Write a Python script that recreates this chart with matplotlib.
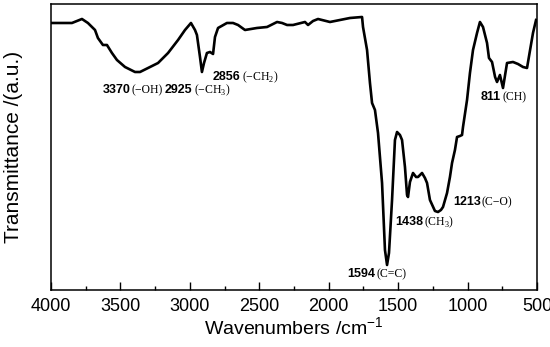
import numpy as np
import matplotlib
matplotlib.use("Agg")
import matplotlib.pyplot as plt

plt.rcParams['font.family'] = ['Liberation Sans', 'DejaVu Sans']
plt.rcParams['mathtext.fontset'] = 'custom'
plt.rcParams['mathtext.rm'] = 'Liberation Serif'
plt.rcParams['mathtext.sf'] = 'Liberation Sans'

# FTIR spectrum (wavenumber in cm-1, transmittance in a.u.)
wavenumber = [3993, 3899, 3849, 3777, 3734, 3683, 3662, 3626, 3597, 3561, 3525, 3467,
              3395, 3359, 3301, 3229, 3157, 3085, 3035, 2992, 2963, 2949, 2927, 2913,
              2898, 2877, 2855, 2833, 2819, 2797, 2733, 2689, 2653, 2603, 2517, 2444,
              2372, 2336, 2300, 2257, 2171, 2149, 2113, 2077, 1991, 1919, 1847, 1760,
              1753, 1724, 1703, 1688, 1667, 1645, 1616, 1595, 1580, 1566, 1544, 1523,
              1508, 1487, 1472, 1451, 1436, 1429, 1415, 1393, 1371, 1357, 1328, 1307,
              1292, 1271, 1235, 1213, 1192, 1177, 1148, 1127, 1112, 1091, 1076, 1055,
              1040, 1033, 1004, 983, 961, 932, 911, 889, 860, 846, 824, 802, 788, 767,
              745, 716, 673, 637, 601, 572, 550, 529, 507]
transmittance = [267, 267, 267, 271, 267, 260, 252, 245, 245, 237, 230, 223,
                 218, 218, 222, 227, 237, 250, 260, 267, 260, 255, 233, 218,
                 227, 237, 238, 236, 253, 262, 267, 267, 265, 260, 262, 263,
                 268, 267, 265, 265, 268, 265, 269, 271, 268, 270, 272, 273,
                 263, 240, 207, 187, 180, 157, 107, 40, 25, 37, 90, 150,
                 158, 155, 150, 123, 95, 93, 108, 117, 113, 113, 117, 112,
                 107, 90, 79, 78, 80, 83, 97, 113, 127, 140, 153, 154,
                 155, 163, 190, 217, 240, 257, 268, 263, 247, 232, 228, 213, 208, 215,
                 202, 227, 228, 226, 223, 222, 240, 257, 270]

# peak annotations: number, group, label position (wavenumber, transmittance)
peak_numbers = ['3370', '2925', '2856', '1594', '1438', '1213', '811']
peak_groups = ['(\u2212OH)', '(\u2212CH$_3$)', '(\u2212CH$_2$)',
               '(C=C)', '(CH$_3$)', '(C\u2212O)', '(CH)']
label_x = [3626, 3180, 2833, 1868, 1523, 1105, 903]
label_y = [200, 200, 213, 16, 68, 88, 193]

fig = plt.figure(figsize=(5.5, 3.47), dpi=100)
ax = fig.add_axes([0.0927, 0.1643, 0.8837, 0.8242])

ax.plot(wavenumber, transmittance, color='black', linewidth=1.9)

for num, grp, lx, ly in zip(peak_numbers, peak_groups, label_x, label_y):
    t = ax.text(lx, ly, num, fontsize=9, fontweight='bold', ha='left', va='center')
    ax.annotate(grp, xy=(1, 0.5), xycoords=t, xytext=(0.8, 0),
                textcoords='offset points', ha='left', va='center', fontsize=8.5,
                family=['Liberation Serif', 'DejaVu Serif'])

ax.set_xlim(4000, 500)
ax.set_ylim(0, 286)
ax.set_xticks(np.arange(4000, 499, -500))
ax.set_xticks(np.arange(3750, 500, -500), minor=True)
ax.set_yticks([])
ax.tick_params(axis='x', which='major', direction='in', length=5.5, width=1,
               labelsize=13, pad=6)
ax.tick_params(axis='x', which='minor', direction='in', length=3, width=1)
for s in ax.spines.values():
    s.set_linewidth(1.1)

ax.set_xlabel(r'Wavenumbers /cm$^{\mathsf{-1}}$', fontsize=14, labelpad=1)
ax.set_ylabel('Transmittance /(a.u.)', fontsize=15, labelpad=20)

fig.savefig('out.png', dpi=100)
